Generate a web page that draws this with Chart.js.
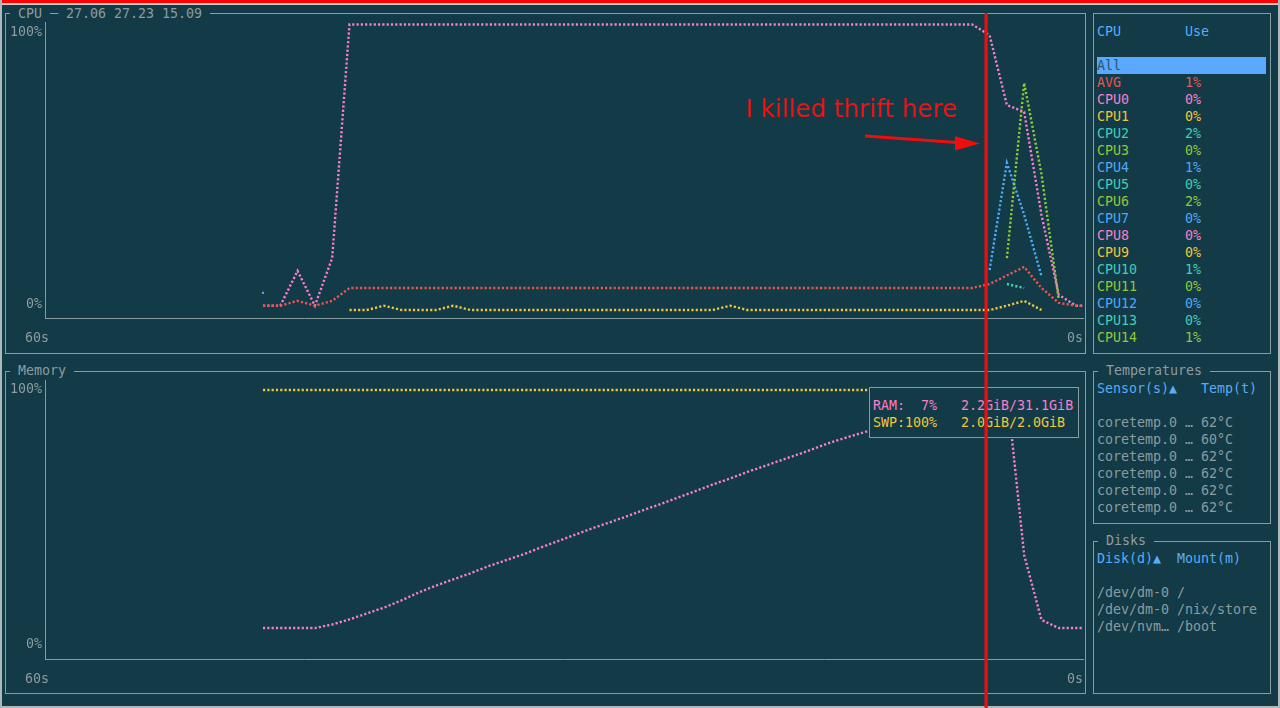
<!DOCTYPE html>
<html><head><meta charset="utf-8">
<script src="https://cdn.jsdelivr.net/npm/chart.js@4/dist/chart.umd.min.js"></script>
<style>
html,body{margin:0;padding:0;background:#123a47;}
body{width:1280px;height:708px;position:relative;overflow:hidden;font-family:"DejaVu Sans Mono",monospace;font-size:13.3px;color:#8d9ca0;}
.t{position:absolute;white-space:pre;line-height:17px;height:17px;}
.box{position:absolute;border:1px solid #869ca1;box-sizing:border-box;}
.ttl{position:absolute;white-space:pre;line-height:17px;background:#123a47;color:#8d9ca0;}
canvas{position:absolute;left:0;}
#frameTop{position:absolute;left:0;top:0;width:1280px;height:2.5px;background:#ff0000;}
#frameTop2{position:absolute;left:0;top:2.5px;width:1280px;height:2px;background:#c4cccd;}
#frameL{position:absolute;left:0;top:0;width:2px;height:708px;background:#aeb8ba;}
#frameR{position:absolute;right:0;top:0;width:2px;height:708px;background:#aeb8ba;}
#frameB{position:absolute;left:0;bottom:0;width:1280px;height:2px;background:#aeb8ba;}
</style>
</head><body>
<div id="frameTop"></div><div id="frameTop2"></div><div id="frameL"></div><div id="frameR"></div><div id="frameB"></div>

<div class="box" style="left:5px;top:13px;width:1081px;height:341px;border-color:#5aaaec;"></div>
<div class="ttl" style="left:10px;top:5px;"> CPU ─ 27.06 27.23 15.09 </div>
<div class="box" style="left:5px;top:371px;width:1081px;height:323px;"></div>
<div class="ttl" style="left:10px;top:362px;"> Memory </div>
<div class="box" style="left:1093px;top:13px;width:178px;height:341px;"></div>
<div class="box" style="left:1093px;top:371px;width:178px;height:153px;"></div>
<div class="ttl" style="left:1098px;top:362px;"> Temperatures </div>
<div class="box" style="left:1093px;top:541px;width:178px;height:153px;"></div>
<div class="ttl" style="left:1098px;top:532px;"> Disks </div>

<canvas id="cpu" width="1090" height="350" style="top:0px;width:1090px;height:350px;"></canvas>
<canvas id="mem" width="1090" height="340" style="top:360px;width:1090px;height:340px;"></canvas>

<div id="memLegend" class="box" style="left:869px;top:387px;width:210px;height:51px;background:#123a47;"></div>
<div id="overlay"></div>

<svg width="1280" height="708" style="position:absolute;left:0;top:0;pointer-events:none;">
  <rect x="984.5" y="13" width="3.2" height="695" fill="#f00d0d"/>
  <line x1="865" y1="136" x2="957" y2="142.6" stroke="#f00d0d" stroke-width="3"/>
  <polygon points="955,136.3 980,143.5 955,150.5" fill="#f00d0d"/>
</svg>
<div style="position:absolute;left:746px;top:94px;font-family:'DejaVu Sans',sans-serif;font-size:24.6px;line-height:30px;color:#f01414;white-space:pre;">I killed thrift here</div>

<script>
// ---------- data ----------
const sampleTimes = Array.from({length: 48}, (_, i) => Math.round((i - 47.4) * 10) / 10).concat([0]);

const cpuAvg  = [1.5,1.5,3.2,1.5,3.2, 7.7,7.7,7.7,7.7,7.7,7.7,7.7,7.7,7.7,7.7,7.7,7.7,7.7,7.7,7.7,7.7,7.7,7.7,7.7,7.7,7.7,7.7,7.7,7.7,7.7,7.7,7.7,7.7,7.7,7.7,7.7,7.7,7.7,7.7,7.7,7.7,7.7, 9.1,12.1,15.1,7.7,2.5,1.5,1.5];
const cpu0    = [1.5,1.5,13.7,1.5,18.2, 100,100,100,100,100,100,100,100,100,100,100,100,100,100,100,100,100,100,100,100,100,100,100,100,100,100,100,100,100,100,100,100,100,100,100,100,100, 96.3,71.8,69.4,33.3,5.3,1.5,1.5];
const cpu1    = [null,null,null,null,null, 0,0,1.5,0,0,0,1.5,0,0,0,0,0,0,0,0,0,0,0,0,0,0,0,1.5,0,0,0,0,0,0,0,0,0,0,0,0,0,0, 0,1.5,3.2,0,null,null,null];
const cpu2    = [null,null,null,null,null, null,null,null,null,null,null,null,null,null,null,null,null,null,null,null,null,null,null,null,null,null,null,null,null,null,null,null,null,null,null,null,null,null,null,null,null,null, null,9.1,7.7,null,null,null,null];
const cpu3    = [null,null,null,null,null, null,null,null,null,null,null,null,null,null,null,null,null,null,null,null,null,null,null,null,null,null,null,null,null,null,null,null,null,null,null,null,null,null,null,null,null,null, null,18.2,79.5,47.6,3.5,null,null];
const cpu4    = [6.0,null,null,null,null, null,null,null,null,null,null,null,null,null,null,null,null,null,null,null,null,null,null,null,null,null,null,null,null,null,null,null,null,null,null,null,null,null,null,null,null,null, 14.0,51.5,33.3,11.9,null,null,null];

const memRam  = [7.0,7.0,7.0,7.0,8.4,10.4,12.7,15.0,17.8,20.9,23.6,26.0,28.4,31.1,33.4,35.7,38.3,40.8,43.4,45.9,48.2,50.6,53.1,55.5,58.0,60.5,63.1,65.4,68.0,70.3,72.7,75.0,77.5,79.9,82.0,84.0,85.9,88.3,90.6,93.0,95.3,97.7,99.6,100,35.5,10.2,7.0,7.0,7.0];
const memSwp  = [100,100,100,100,100,100,100,100,100,100,100,100,100,100,100,100,100,100,100,100,100,100,100,100,100,100,100,100,100,100,100,100,100,100,100,100,100,100,100,100,100,100,100,100,100,100,100,100,null];

const xTickLabels = ['60s', '0s'];
const yTickLabels = ['0%', '100%'];

const cpuNames  = ['AVG','CPU0','CPU1','CPU2','CPU3','CPU4','CPU5','CPU6','CPU7','CPU8','CPU9','CPU10','CPU11','CPU12','CPU13','CPU14'];
const cpuUse    = ['1%','0%','0%','2%','0%','1%','0%','2%','0%','0%','0%','1%','0%','0%','0%','1%'];
const tempSensors = ['coretemp.0 …','coretemp.0 …','coretemp.0 …','coretemp.0 …','coretemp.0 …','coretemp.0 …'];
const tempValues  = ['62°C','60°C','62°C','62°C','62°C','62°C'];
const diskNames   = ['/dev/dm-0','/dev/dm-0','/dev/nvm…'];
const diskMounts  = ['/','/nix/store','/boot'];
const memLegendRows = [['RAM:  7%   2.2GiB/31.1GiB','ram'],['SWP:100%   2.0GiB/2.0GiB','swp']];

// ---------- styles ----------
const C = {red:'#ea5650', pink:'#f77fc8', yellow:'#eec63c', teal:'#48cbb5', green:'#90c83c', blue:'#52a8f4',
           hdr:'#5aacf5', gray:'#8d9ca0', axis:'#869ca1'};
const rowColors = [C.red,C.pink,C.yellow,C.teal,C.green,C.blue,C.teal,C.green,C.blue,C.pink,C.yellow,C.teal,C.green,C.blue,C.teal,C.green];
const rowY = k => 14 + 17 * k - 8.5;
const ov = document.getElementById('overlay');
function txt(s, x, k, color, extra) {
  const d = document.createElement('div');
  d.className = 't'; d.textContent = s;
  d.style.left = x + 'px'; d.style.top = rowY(k) + 'px';
  if (color) d.style.color = color;
  if (extra) Object.assign(d.style, extra);
  ov.appendChild(d);
}
// CPU table
txt('CPU', 1097, 1, C.hdr); txt('Use', 1185, 1, C.hdr);
txt('All', 1097, 3, '#2a5565', {background:'#5aa8ff', width:'169px'});
cpuNames.forEach((n, i) => { txt(n, 1097, 4 + i, rowColors[i]); txt(cpuUse[i], 1185, 4 + i, rowColors[i]); });
// temps
txt('Sensor(s)▲', 1097, 22, C.hdr); txt('Temp(t)', 1201, 22, C.hdr);
tempSensors.forEach((s, i) => { txt(s, 1097, 24 + i, C.gray); txt(tempValues[i], 1201, 24 + i, C.gray); });
// disks
txt('Disk(d)▲', 1097, 32, C.hdr); txt('Mount(m)', 1177, 32, C.hdr);
diskNames.forEach((s, i) => { txt(s, 1097, 34 + i, C.gray); txt(diskMounts[i], 1177, 34 + i, C.gray); });
// memory legend
memLegendRows.forEach((r, i) => txt(r[0], 873, 23 + i, r[1] === 'ram' ? C.pink : C.yellow));

// ---------- charts ----------
const toXY = vals => vals.map((v, i) => ({x: sampleTimes[i], y: v}));
function isolatedRadius(ctx) {
  const d = ctx.dataset.data, i = ctx.dataIndex;
  const has = k => k >= 0 && k < d.length && d[k] && d[k].y !== null && d[k].y !== undefined;
  return (has(i) && !has(i - 1) && !has(i + 1)) ? 1.5 : 0;
}
function ds(label, vals, color) {
  return {label, data: toXY(vals), borderColor: color, backgroundColor: color, borderWidth: 2.4,
    borderDash: [2.2, 2.1], pointRadius: isolatedRadius, pointStyle: 'rect', pointBorderWidth: 0,
    pointHoverRadius: 0, tension: 0, fill: false, spanGaps: false};
}
const tickFont = {family: 'DejaVu Sans Mono', size: 13.3};
function makeOptions(yMin, yMax, tickVals, topPad, xHeight) {
  return {
    animation: false, responsive: false, maintainAspectRatio: false, events: [],
    layout: {padding: {top: topPad, right: 7, left: 0, bottom: 0}},
    plugins: {legend: {display: false}, tooltip: {enabled: false}},
    scales: {
      x: {type: 'linear', min: -60, max: 0,
        afterBuildTicks: s => { s.ticks = [{value: -60}, {value: 0}]; },
        afterFit: s => { s.height = xHeight; s.paddingLeft = 0; s.paddingRight = 0; },
        ticks: {callback: (v) => v === -60 ? xTickLabels[0] : xTickLabels[1], color: C.gray, font: tickFont,
          padding: 13, labelOffset: -8, autoSkip: false, maxRotation: 0},
        grid: {display: false, drawTicks: false}, border: {display: true, color: C.axis, width: 1}},
      y: {type: 'linear', min: yMin, max: yMax,
        afterBuildTicks: s => { s.ticks = tickVals.map(v => ({value: v})); },
        afterFit: s => { s.width = 45; s.paddingTop = 0; s.paddingBottom = 0; },
        ticks: {callback: (v) => v > 50 ? yTickLabels[1] : yTickLabels[0], color: C.gray, font: tickFont, padding: 3, autoSkip: false},
        grid: {display: false, drawTicks: false}, border: {display: true, color: C.axis, width: 1}}
    }
  };
}
new Chart(document.getElementById('cpu'), {
  type: 'line',
  data: {datasets: [ds('AVG', cpuAvg, C.red), ds('CPU0', cpu0, C.pink), ds('CPU1', cpu1, C.yellow),
                    ds('CPU2', cpu2, C.teal), ds('CPU3', cpu3, C.green), ds('CPU4', cpu4, C.blue)]},
  options: makeOptions(-2.8, 100.88, [1.75, 97.02], 22, 32)
});
new Chart(document.getElementById('mem'), {
  type: 'line',
  data: {datasets: [ds('RAM', memRam, C.pink), ds('SWP', memSwp, C.yellow)]},
  options: makeOptions(-5.08, 103.9, [0.39, 100.0], 20, 41)
});
</script>
</body></html>
